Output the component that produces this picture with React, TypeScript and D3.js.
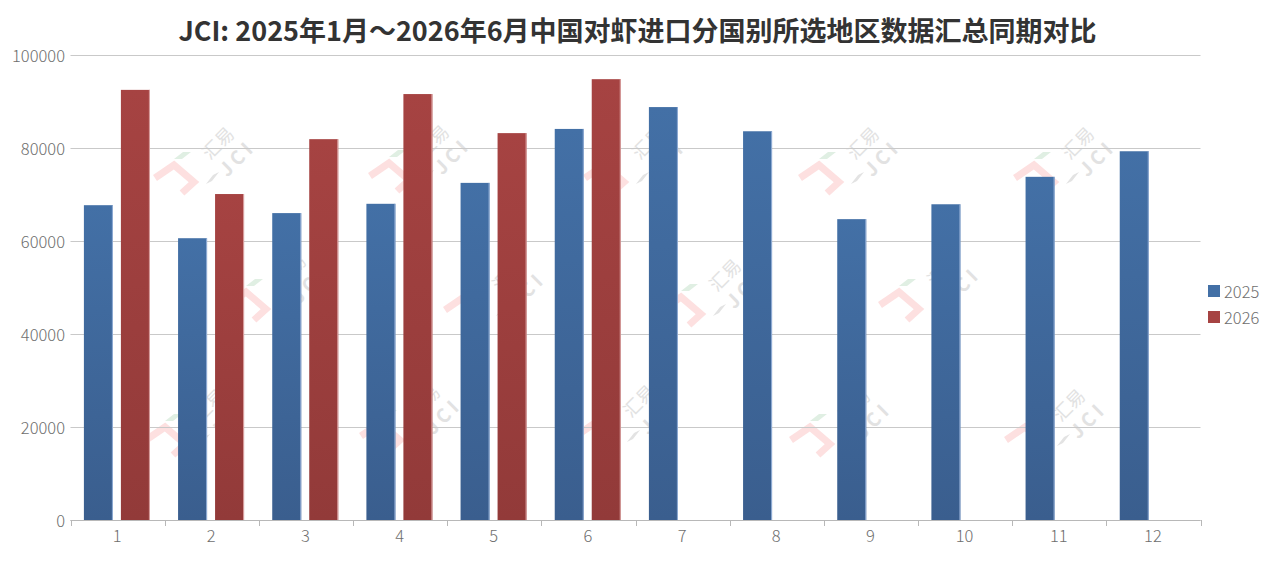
import React from "react";
import * as d3 from "d3";

const months = ["1", "2", "3", "4", "5", "6", "7", "8", "9", "10", "11", "12"];
const seriesNames = ["2025", "2026"];
const values2025 = [67700, 60600, 66000, 68000, 72500, 84100, 88800, 83600, 64700, 67900, 73800, 79300];
const values2026: (number | null)[] = [92500, 70100, 81900, 91600, 83200, 94800, null, null, null, null, null, null];
const yTicks = [0, 20000, 40000, 60000, 80000, 100000];
const title = "JCI: 2025年1月～2026年6月中国对虾进口分国别所选地区数据汇总同期对比";

const watermarkCenters: [number, number][] = [
  [205, 160], [420, 158], [635, 160], [850, 160], [1065, 160],
  [277, 287], [495, 292], [712, 292], [930, 287],
  [196, 422], [411, 418], [626, 418], [841, 422], [1056, 422],
];

const W = 1276;
const H = 561;
const FONT = "'Noto Sans CJK SC', 'Noto Sans', sans-serif";
const LIGHT = "'Noto Sans CJK SC Light', 'Noto Sans CJK SC', 'Noto Sans', sans-serif";

function Watermark({ cx, cy }: { cx: number; cy: number }) {
  return (
    <g transform={`translate(${cx},${cy})`}>
      <polyline
        points="-50,18 -31,5 -11,22 -23,33"
        fill="none"
        stroke="#fde0e0"
        strokeWidth={7}
        strokeLinejoin="miter"
      />
      <polygon points="-31,-1 -22,-8 -14,-8 -23,-1" fill="#e0efe3" />
      <polygon points="1,24 8,15 14,12 7,21" fill="#e3e3e3" />
      <text
        x={0}
        y={0}
        transform="translate(12,-18) rotate(-45)"
        fontFamily={FONT}
        fontSize={18}
        fill="#e2e2e2"
        textAnchor="middle"
        dominantBaseline="central"
      >
        汇易
      </text>
      <text
        x={0}
        y={0}
        transform="translate(31,-3) rotate(-45)"
        fontFamily={FONT}
        fontSize={19}
        fontWeight={700}
        fill="#e2e2e2"
        textAnchor="middle"
        dominantBaseline="central"
        letterSpacing={4}
      >
        JCI
      </text>
    </g>
  );
}

export default function App() {
  const left = 70.5;
  const right = 1200.5;
  const top = 55;
  const bottom = 520;

  const x0 = d3.scaleBand<string>().domain(months).range([left, right]).paddingInner(0).paddingOuter(0);
  const groupStart = 13.4;
  const x1 = d3
    .scaleBand<string>()
    .domain(seriesNames)
    .range([groupStart, groupStart + 66])
    .paddingInner(8 / 37)
    .paddingOuter(0);
  const y = d3.scaleLinear().domain([0, 100000]).range([bottom, top]);

  const colors: Record<string, [string, string, string]> = {
    "2025": ["#4370a6", "#3a5e8e", "#93aed6"],
    "2026": ["#a64342", "#923a39", "#dba3a3"],
  };

  const seriesData: Record<string, (number | null)[]> = {
    "2025": values2025,
    "2026": values2026,
  };

  const bw = x1.bandwidth();
  const boundaries = months.map((m) => x0(m) as number).concat([right]);

  return (
    <svg width={W} height={H} style={{ display: "block", position: "absolute", left: 0, top: 0 }}>
      <defs>
        {seriesNames.map((s) => (
          <linearGradient key={s} id={`grad${s}`} x1="0" y1="0" x2="0" y2="1">
            <stop offset="0%" stopColor={colors[s][0]} />
            <stop offset="100%" stopColor={colors[s][1]} />
          </linearGradient>
        ))}
      </defs>
      <rect x={0} y={0} width={W} height={H} fill="#ffffff" />
      {watermarkCenters.map(([cx, cy], i) => (
        <Watermark key={i} cx={cx} cy={cy} />
      ))}
      {yTicks.map((t) => (
        <line
          key={t}
          x1={left}
          x2={right}
          y1={Math.round(y(t)) + 0.5}
          y2={Math.round(y(t)) + 0.5}
          stroke={t === 0 ? "#b8b8b8" : "#c9c9c9"}
          strokeWidth={1}
        />
      ))}
      {yTicks.map((t) => (
        <text
          key={t}
          x={65}
          y={y(t)}
          textAnchor="end"
          dominantBaseline="central"
          fontFamily={LIGHT}
          fontSize={16.5}
          fontWeight={300}
          fill="#6e6e6e"
        >
          {t}
        </text>
      ))}
      {months.map((m, i) => (
        <g key={m} transform={`translate(${x0(m)},0)`}>
          {seriesNames.map((s) => {
            const v = seriesData[s][i];
            if (v == null) return null;
            const bx = x1(s) as number;
            const by = y(v);
            const h = bottom - by;
            return (
              <g key={s}>
                <rect x={bx} y={by} width={bw} height={h} fill={`url(#grad${s})`} />
                <rect x={bx + bw - 1} y={by} width={1} height={h} fill={colors[s][2]} />
              </g>
            );
          })}
        </g>
      ))}
      <line x1={left} x2={right} y1={520.5} y2={520.5} stroke="#b8b8b8" strokeWidth={1} />
      {boundaries.map((b, i) => (
        <line key={i} x1={Math.round(b) + 0.5} x2={Math.round(b) + 0.5} y1={520} y2={526} stroke="#b8b8b8" />
      ))}
      {months.map((m) => (
        <text
          key={m}
          x={(x0(m) as number) + x0.bandwidth() / 2 - 0.5}
          y={542}
          textAnchor="middle"
          fontFamily={LIGHT}
          fontSize={16.5}
          fontWeight={300}
          fill="#6e6e6e"
        >
          {m}
        </text>
      ))}
      <text
        x={637.5}
        y={41}
        textAnchor="middle"
        fontFamily={FONT}
        fontSize={27}
        fontWeight={700}
        fill="#333"
      >
        {title}
      </text>
      {seriesNames.map((s, i) => (
        <g key={s} transform={`translate(1208,${285 + i * 26})`}>
          <rect x={0} y={0} width={12} height={12} fill={colors[s][0]} />
          <text
            x={16}
            y={6}
            dominantBaseline="central"
            fontFamily={LIGHT}
            fontSize={16.5}
            fontWeight={300}
            fill="#6e6e6e"
          >
            {s}
          </text>
        </g>
      ))}
    </svg>
  );
}
